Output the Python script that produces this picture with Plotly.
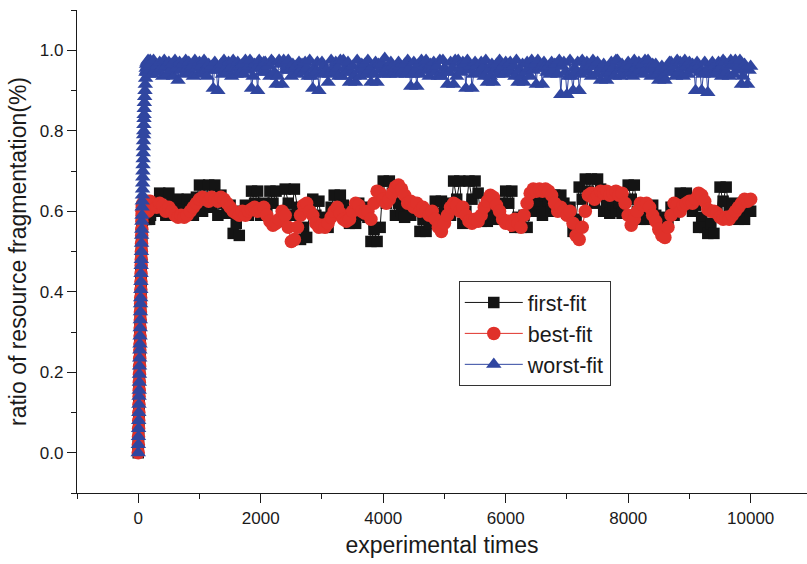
import plotly.graph_objects as go

# Experimental time indices: dense start-up phase, then regular sampling
ramp_times = list(range(0, 100, 2)) + list(range(100, 200, 5))
main_times = list(range(200, 10001, 50))
worst_main_times = list(range(200, 10001, 25))
times = ramp_times + main_times
worst_times = ramp_times + worst_main_times

# Shared start-up rise observed for all three strategies (t = 0..62)
rise = [0.0, 0.02, 0.04, 0.06, 0.08, 0.1, 0.12, 0.14, 0.155, 0.175,
        0.195, 0.215, 0.235, 0.255, 0.27, 0.29, 0.31, 0.33, 0.35, 0.37,
        0.385, 0.405, 0.425, 0.445, 0.465, 0.48, 0.5, 0.52, 0.54, 0.555,
        0.575, 0.59]

first_fit = rise + [
    0.6, 0.59, 0.6, 0.58, 0.6, 0.59, 0.6, 0.58, 0.59, 0.6, 0.58, 0.6, 0.59, 0.6, 0.58, 0.59, 0.6, 0.6,
    0.59, 0.58, 0.6, 0.59, 0.6, 0.58, 0.6, 0.59, 0.58, 0.6, 0.59, 0.6, 0.58, 0.6, 0.59, 0.6, 0.6, 0.58, 0.6, 0.6,
] + [
    # t = 200 .. 1150
    0.59, 0.61, 0.6, 0.645, 0.615, 0.59, 0.645, 0.62, 0.59, 0.63,
    0.605, 0.59, 0.63, 0.61, 0.59, 0.635, 0.665, 0.6, 0.635, 0.665,
    # t = 1200 .. 2150
    0.61, 0.665, 0.59, 0.64, 0.62, 0.595, 0.615, 0.545, 0.57, 0.54,
    0.6, 0.615, 0.59, 0.65, 0.62, 0.65, 0.59, 0.62, 0.6, 0.65,
    # t = 2200 .. 3150
    0.62, 0.65, 0.575, 0.6, 0.655, 0.62, 0.59, 0.655, 0.61, 0.53,
    0.56, 0.535, 0.6, 0.63, 0.59, 0.625, 0.56, 0.585, 0.56, 0.61,
    # t = 3200 .. 4150
    0.64, 0.6, 0.64, 0.615, 0.59, 0.57, 0.6, 0.57, 0.62, 0.59,
    0.61, 0.585, 0.525, 0.555, 0.525, 0.56, 0.675, 0.62, 0.675, 0.645,
    # t = 4200 .. 5150
    0.59, 0.62, 0.6, 0.585, 0.615, 0.59, 0.62, 0.6, 0.55, 0.58,
    0.55, 0.57, 0.6, 0.625, 0.595, 0.625, 0.6, 0.62, 0.59, 0.675,
    # t = 5200 .. 6150
    0.63, 0.675, 0.57, 0.6, 0.675, 0.63, 0.675, 0.645, 0.575, 0.6,
    0.575, 0.6, 0.58, 0.61, 0.59, 0.62, 0.65, 0.62, 0.65, 0.56,
    # t = 6200 .. 7150
    0.585, 0.56, 0.59, 0.56, 0.6, 0.625, 0.6, 0.625, 0.59, 0.61,
    0.625, 0.6, 0.64, 0.61, 0.64, 0.62, 0.595, 0.61, 0.55, 0.58,
    # t = 7200 .. 8150
    0.66, 0.63, 0.68, 0.65, 0.68, 0.62, 0.68, 0.655, 0.6, 0.62,
    0.595, 0.615, 0.6, 0.62, 0.595, 0.625, 0.665, 0.63, 0.665, 0.6,
    # t = 8200 .. 9150
    0.58, 0.61, 0.58, 0.6, 0.615, 0.59, 0.56, 0.585, 0.56, 0.58,
    0.61, 0.59, 0.62, 0.645, 0.615, 0.645, 0.62, 0.6, 0.615, 0.56,
    # t = 9200 .. 10000
    0.585, 0.56, 0.545, 0.57, 0.545, 0.6, 0.66, 0.625, 0.66, 0.6,
    0.62, 0.595, 0.58, 0.605, 0.58, 0.615, 0.6,
]

best_fit = rise + [
    0.6, 0.61, 0.6, 0.615, 0.6, 0.61, 0.62, 0.61, 0.6, 0.615, 0.62, 0.61, 0.6, 0.605, 0.615, 0.62, 0.61, 0.6,
    0.61, 0.62, 0.615, 0.6, 0.61, 0.62, 0.615, 0.605, 0.61, 0.62, 0.625, 0.61, 0.6, 0.615, 0.62, 0.61, 0.605, 0.615, 0.62, 0.625,
] + [
    0.62, 0.615, 0.61, 0.62, 0.615, 0.6, 0.61, 0.6, 0.59, 0.585, 0.59, 0.585, 0.59, 0.6, 0.61, 0.62, 0.63, 0.635, 0.63, 0.625,
    0.635, 0.63, 0.625, 0.635, 0.63, 0.62, 0.61, 0.6, 0.595, 0.59, 0.6, 0.59, 0.6, 0.605, 0.61, 0.6, 0.605, 0.61, 0.59, 0.575,
    0.565, 0.57, 0.58, 0.6, 0.59, 0.56, 0.525, 0.53, 0.56, 0.59, 0.615, 0.62, 0.6, 0.59, 0.57, 0.56, 0.565, 0.56, 0.57, 0.585,
    0.6, 0.61, 0.595, 0.58, 0.575, 0.58, 0.6, 0.62, 0.615, 0.6, 0.595, 0.6, 0.58, 0.62, 0.65, 0.645, 0.63, 0.62, 0.63, 0.645,
    0.66, 0.665, 0.655, 0.64, 0.62, 0.625, 0.61, 0.62, 0.6, 0.61, 0.6, 0.59, 0.6, 0.58, 0.56, 0.55, 0.57, 0.59, 0.61, 0.62,
    0.615, 0.6, 0.61, 0.59, 0.575, 0.57, 0.58, 0.575, 0.59, 0.61, 0.625, 0.64, 0.635, 0.615, 0.6, 0.58, 0.57, 0.575, 0.565, 0.58,
    0.57, 0.56, 0.59, 0.62, 0.645, 0.655, 0.65, 0.655, 0.65, 0.655, 0.65, 0.64, 0.62, 0.6, 0.61, 0.6, 0.59, 0.6, 0.57, 0.54,
    0.53, 0.56, 0.6, 0.64, 0.645, 0.63, 0.64, 0.65, 0.645, 0.65, 0.64, 0.645, 0.65, 0.64, 0.645, 0.62, 0.59, 0.565, 0.58, 0.6,
    0.62, 0.615, 0.62, 0.61, 0.59, 0.575, 0.555, 0.54, 0.535, 0.56, 0.59, 0.62, 0.615, 0.6, 0.615, 0.62, 0.625, 0.62, 0.63, 0.645,
    0.64, 0.625, 0.605, 0.6, 0.6, 0.595, 0.585, 0.58, 0.585, 0.58, 0.59, 0.6, 0.61, 0.62, 0.63, 0.625, 0.63,
]

worst_fit = rise + [
    0.61, 0.625, 0.64, 0.655, 0.67, 0.685, 0.7, 0.715, 0.73, 0.745, 0.76, 0.775, 0.79, 0.8, 0.815, 0.83, 0.84, 0.855,
    0.87, 0.885, 0.9, 0.915, 0.93, 0.945, 0.955, 0.965, 0.95, 0.97, 0.96, 0.945, 0.975, 0.955, 0.94, 0.965, 0.97, 0.95, 0.96, 0.975,
] + [
    # t = 200 .. 1175
    0.965, 0.94, 0.975, 0.95, 0.96, 0.945, 0.97, 0.955, 0.935, 0.975,
    0.96, 0.94, 0.97, 0.95, 0.965, 0.935, 0.975, 0.955, 0.925, 0.97,
    0.95, 0.965, 0.94, 0.975, 0.955, 0.97, 0.945, 0.96, 0.935, 0.975,
    0.955, 0.94, 0.97, 0.96, 0.945, 0.975, 0.95, 0.935, 0.965, 0.955,
    # t = 1200 .. 2175
    0.96, 0.905, 0.97, 0.95, 0.9, 0.95, 0.965, 0.94, 0.975, 0.955,
    0.945, 0.97, 0.955, 0.935, 0.975, 0.955, 0.94, 0.97, 0.96, 0.945,
    0.965, 0.94, 0.975, 0.95, 0.96, 0.975, 0.905, 0.935, 0.965, 0.955,
    0.9, 0.975, 0.955, 0.945, 0.97, 0.97, 0.945, 0.96, 0.935, 0.975,
    # t = 2200 .. 3175
    0.97, 0.945, 0.915, 0.935, 0.975, 0.965, 0.915, 0.975, 0.95, 0.96,
    0.975, 0.95, 0.935, 0.965, 0.955, 0.96, 0.94, 0.97, 0.95, 0.965,
    0.945, 0.97, 0.955, 0.935, 0.975, 0.935, 0.905, 0.955, 0.945, 0.97,
    0.9, 0.94, 0.97, 0.96, 0.945, 0.95, 0.92, 0.94, 0.975, 0.955,
    # t = 3200 .. 4175
    0.945, 0.97, 0.955, 0.935, 0.975, 0.935, 0.975, 0.955, 0.945, 0.97,
    0.92, 0.945, 0.96, 0.935, 0.92, 0.975, 0.95, 0.935, 0.965, 0.955,
    0.965, 0.94, 0.975, 0.95, 0.92, 0.96, 0.94, 0.97, 0.92, 0.965,
    0.95, 0.965, 0.94, 0.98, 0.955, 0.955, 0.94, 0.97, 0.96, 0.945,
    # t = 4200 .. 5175
    0.955, 0.94, 0.97, 0.96, 0.945, 0.95, 0.965, 0.94, 0.975, 0.955,
    0.91, 0.94, 0.97, 0.95, 0.91, 0.965, 0.94, 0.975, 0.95, 0.96,
    0.975, 0.95, 0.935, 0.965, 0.955, 0.97, 0.945, 0.96, 0.935, 0.975,
    0.935, 0.975, 0.955, 0.945, 0.915, 0.945, 0.97, 0.955, 0.915, 0.975,
    # t = 5200 .. 6175
    0.935, 0.975, 0.955, 0.945, 0.97, 0.965, 0.905, 0.975, 0.95, 0.96,
    0.905, 0.94, 0.97, 0.96, 0.945, 0.945, 0.97, 0.955, 0.935, 0.975,
    0.92, 0.95, 0.935, 0.965, 0.92, 0.95, 0.965, 0.94, 0.975, 0.955,
    0.96, 0.94, 0.97, 0.95, 0.965, 0.97, 0.945, 0.96, 0.935, 0.975,
    # t = 6200 .. 7175
    0.92, 0.95, 0.935, 0.965, 0.92, 0.945, 0.97, 0.955, 0.935, 0.975,
    0.95, 0.965, 0.915, 0.975, 0.955, 0.955, 0.915, 0.97, 0.96, 0.945,
    0.96, 0.94, 0.97, 0.95, 0.965, 0.965, 0.94, 0.975, 0.89, 0.96,
    0.97, 0.945, 0.89, 0.935, 0.975, 0.935, 0.9, 0.955, 0.945, 0.97,
    # t = 7200 .. 8175
    0.9, 0.94, 0.975, 0.95, 0.96, 0.97, 0.945, 0.96, 0.935, 0.975,
    0.96, 0.94, 0.97, 0.95, 0.925, 0.95, 0.965, 0.94, 0.925, 0.955,
    0.945, 0.97, 0.955, 0.935, 0.975, 0.975, 0.95, 0.935, 0.965, 0.955,
    0.955, 0.94, 0.97, 0.96, 0.945, 0.935, 0.975, 0.955, 0.945, 0.97,
    # t = 8200 .. 9175
    0.95, 0.965, 0.94, 0.975, 0.955, 0.975, 0.95, 0.935, 0.965, 0.955,
    0.965, 0.94, 0.925, 0.95, 0.96, 0.935, 0.925, 0.955, 0.945, 0.97,
    0.97, 0.945, 0.96, 0.935, 0.975, 0.945, 0.97, 0.955, 0.935, 0.975,
    0.96, 0.94, 0.97, 0.95, 0.965, 0.955, 0.9, 0.97, 0.96, 0.945,
    # t = 9200 .. 10000
    0.9, 0.94, 0.97, 0.95, 0.895, 0.955, 0.94, 0.97, 0.96, 0.945,
    0.945, 0.97, 0.955, 0.935, 0.975, 0.97, 0.945, 0.96, 0.935, 0.975,
    0.965, 0.94, 0.975, 0.95, 0.96, 0.975, 0.915, 0.935, 0.965, 0.955,
    0.915, 0.95, 0.96,
]

x_tick_vals = [0, 2000, 4000, 6000, 8000, 10000]
y_tick_vals = [0.0, 0.2, 0.4, 0.6, 0.8, 1.0]

FONT = "Liberation Sans, Arial, sans-serif"
AXIS_COLOR = "#1a1a1a"
BLACK = "#141414"
RED = "#e0312a"
BLUE = "#3046a0"

fig = go.Figure()
fig.add_trace(go.Scatter(
    x=times, y=first_fit, name="first-fit", mode="lines+markers",
    line=dict(color=BLACK, width=1),
    marker=dict(symbol="square", size=11.5, color=BLACK),
))
fig.add_trace(go.Scatter(
    x=times, y=best_fit, name="best-fit", mode="lines+markers",
    line=dict(color=RED, width=1),
    marker=dict(symbol="circle", size=13.5, color=RED),
))
fig.add_trace(go.Scatter(
    x=worst_times, y=worst_fit, name="worst-fit", mode="lines+markers",
    line=dict(color=BLUE, width=1),
    marker=dict(symbol="triangle-up", size=13.5, color=BLUE),
))

fig.update_layout(
    width=807, height=564,
    margin=dict(l=77, r=0, t=10, b=71),
    paper_bgcolor="white", plot_bgcolor="white",
    font=dict(family=FONT, color="#1a1a1a"),
    showlegend=True,
    legend=dict(
        x=0.523, y=0.439, xanchor="left", yanchor="top",
        bordercolor="#333333", borderwidth=1, bgcolor="white",
        font=dict(size=21.5, family=FONT, color="#1a1a1a"),
        itemwidth=58, tracegroupgap=0,
    ),
    xaxis=dict(
        range=[-1000, 10920],
        tickvals=x_tick_vals, ticktext=[str(v) for v in x_tick_vals],
        ticks="outside", ticklen=9, tickwidth=1.3, tickcolor=AXIS_COLOR,
        minor=dict(dtick=1000, tick0=1000, ticks="outside", ticklen=5,
                   tickwidth=1.3, tickcolor=AXIS_COLOR, showgrid=False),
        showline=True, linecolor=AXIS_COLOR, linewidth=1.3,
        showgrid=False, zeroline=False,
        tickfont=dict(size=17, family=FONT, color="#1a1a1a"),
        title=dict(text="experimental times", font=dict(size=23, family=FONT),
                   standoff=10),
    ),
    yaxis=dict(
        range=[-0.1, 1.1],
        tickvals=y_tick_vals, ticktext=[f"{v:.1f}" for v in y_tick_vals],
        ticks="outside", ticklen=9, tickwidth=1.3, tickcolor=AXIS_COLOR,
        minor=dict(dtick=0.1, tick0=0.1, ticks="outside", ticklen=5,
                   tickwidth=1.3, tickcolor=AXIS_COLOR, showgrid=False),
        showline=True, linecolor=AXIS_COLOR, linewidth=1.3,
        showgrid=False, zeroline=False,
        tickfont=dict(size=17, family=FONT, color="#1a1a1a"),
        title=dict(text="ratio of resource fragmentation(%)",
                   font=dict(size=23, family=FONT), standoff=6),
    ),
)

fig.write_html("out.html")
